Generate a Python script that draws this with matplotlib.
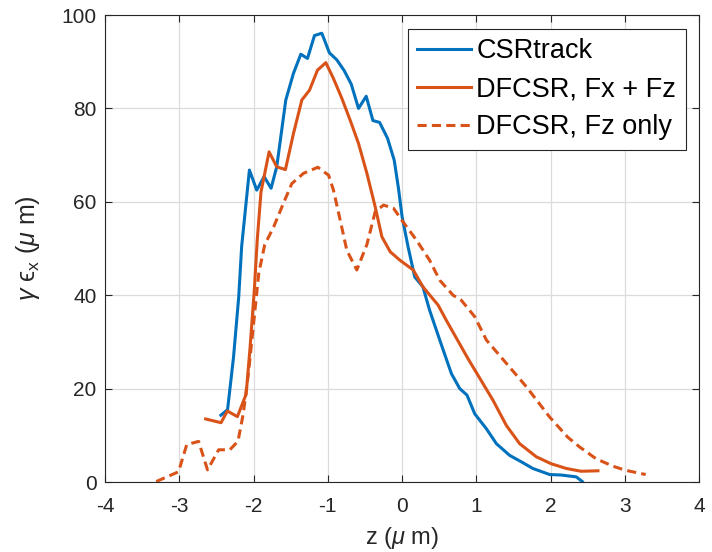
import matplotlib
matplotlib.use("Agg")
import matplotlib.pyplot as plt

# CSRtrack
z_csr = [-2.44, -2.35, -2.27, -2.20, -2.16, -2.056, -1.957, -1.858, -1.764, -1.688,
         -1.566, -1.463, -1.364, -1.274, -1.18, -1.081, -0.979, -0.879, -0.78, -0.685,
         -0.587, -0.483, -0.393, -0.303, -0.196, -0.106, -0.05, 0.0, 0.08, 0.17,
         0.28, 0.37, 0.507, 0.664, 0.776, 0.874, 0.978, 1.135, 1.27, 1.448,
         1.63, 1.76, 1.987, 2.14, 2.345, 2.426]
e_csr = [14.3, 15.5, 26.7, 39.6, 50.5, 66.8, 62.5, 65.4, 62.9, 67.5,
         81.8, 87.5, 91.6, 90.7, 95.6, 96.1, 91.9, 90.4, 88.1, 85.2,
         80.0, 82.6, 77.4, 77.0, 73.6, 68.9, 63.0, 56.8, 50.4, 43.9,
         41.8, 36.8, 30.4, 23.2, 20.0, 18.6, 14.6, 11.4, 8.2, 5.7,
         4.1, 2.9, 1.6, 1.5, 1.1, 0.1]

# DFCSR, Fx + Fz
z_fxz = [-2.645, -2.438, -2.353, -2.218, -2.10, -2.047, -1.99, -1.95, -1.90, -1.791,
         -1.688, -1.571, -1.463, -1.35, -1.247, -1.139, -1.027, -0.924, -0.81, -0.70,
         -0.587, -0.474, -0.362, -0.272, -0.16, -0.03, 0.15, 0.28, 0.484, 0.596,
         0.888, 1.224, 1.404, 1.583, 1.807, 2.009, 2.21, 2.41, 2.637]
e_fxz = [13.5, 12.7, 15.2, 14.0, 18.8, 28.8, 41.1, 51.9, 62.1, 70.7,
         67.5, 66.9, 74.6, 81.8, 83.9, 88.2, 89.8, 86.4, 82.1, 77.5,
         72.5, 66.1, 58.9, 52.5, 49.3, 47.5, 45.4, 41.8, 37.9, 34.6,
         26.4, 17.5, 12.1, 8.2, 5.4, 3.9, 2.9, 2.3, 2.4]

# DFCSR, Fz only
z_fz = [-3.31, -3.01, -2.90, -2.74, -2.62, -2.47, -2.32, -2.21, -2.14, -2.07,
        -2.0, -1.93, -1.85, -1.73, -1.60, -1.485, -1.328, -1.135, -0.99, -0.924,
        -0.834, -0.744, -0.61, -0.475, -0.362, -0.25, -0.115, 0.013, 0.193, 0.37,
        0.507, 0.686, 0.798, 0.978, 1.135, 1.404, 1.673, 1.987, 2.23, 2.39,
        2.61, 2.836, 3.01, 3.28]
e_fz = [0.1, 2.2, 8.0, 8.7, 2.6, 6.9, 6.9, 8.7, 14.5, 23.1,
        33.9, 44.7, 50.8, 54.6, 59.6, 63.9, 66.1, 67.4, 65.7, 62.5,
        56.1, 49.6, 45.4, 50.8, 57.9, 59.3, 58.6, 55.7, 51.8, 47.5,
        43.2, 40.0, 38.9, 35.4, 30.4, 25.4, 20.4, 13.9, 9.6, 7.5,
        5.0, 3.4, 2.5, 1.6]

labels = ["CSRtrack", "DFCSR, Fx + Fz", "DFCSR, Fz only"]
blue = "#0072BD"
orange = "#D95319"

plt.rcParams["font.family"] = ["Liberation Sans", "DejaVu Sans"]
plt.rcParams["mathtext.fontset"] = "custom"
plt.rcParams["mathtext.rm"] = "Liberation Sans"
plt.rcParams["mathtext.it"] = "Liberation Sans:italic"
plt.rcParams["axes.unicode_minus"] = False

fig = plt.figure(figsize=(7.12, 5.52), dpi=100)
ax = fig.add_axes([0.1475, 0.1268, 0.8345, 0.846])

ax.plot(z_csr, e_csr, color=blue, lw=2.2, label=labels[0])
ax.plot(z_fxz, e_fxz, color=orange, lw=2.2, label=labels[1])
ax.plot(z_fz, e_fz, color=orange, lw=2.2, ls=(0, (3.0, 1.7)), label=labels[2])

ax.set_xlim(-4, 4)
ax.set_ylim(0, 100)
ax.set_xticks(range(-4, 5))
ax.set_yticks(range(0, 101, 20))
ax.grid(True, color="#dcdcdc", lw=0.9)
ax.set_axisbelow(True)
ax.tick_params(direction="in", top=True, right=True, length=5, width=0.8,
               labelsize=15, colors="#262626", pad=6)
ax.tick_params(axis="x", pad=11)
for s in ax.spines.values():
    s.set_color("#262626")
    s.set_linewidth(0.8)

ax.set_xlabel(r"z ($\mu$ m)", fontsize=17, color="#262626", labelpad=6)
ax.set_ylabel(r"$\gamma$ " + "\u03f5" + r"$_{\mathrm{x}}$ ($\mu$ m)", fontsize=18,
              color="#262626", labelpad=14)

leg = ax.legend(loc="upper right", fontsize=19.5, handlelength=2.0,
                borderaxespad=0.5, fancybox=False, framealpha=1,
                edgecolor="#262626", labelspacing=0.45, handletextpad=0.18,
                borderpad=0.35)
leg.get_frame().set_linewidth(0.8)

fig.savefig("out.png", dpi=100)
